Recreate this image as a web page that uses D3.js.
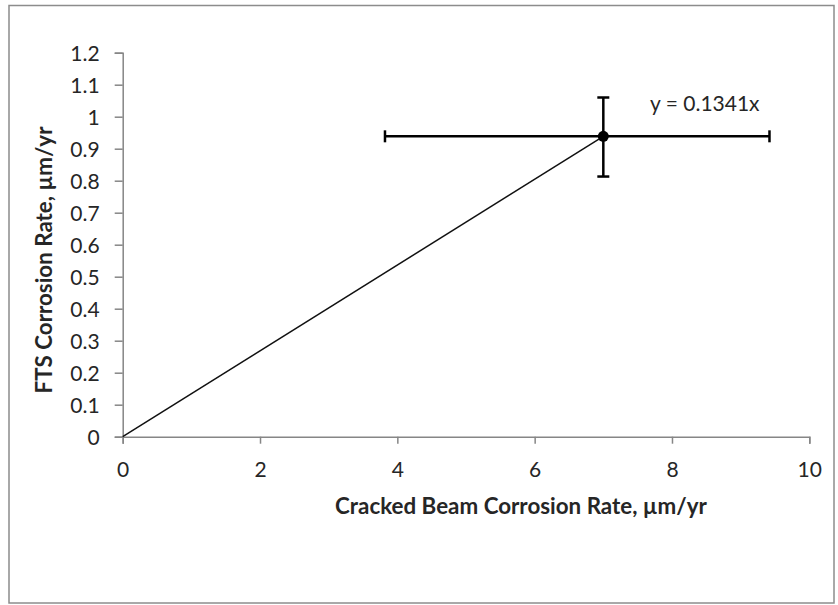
<!DOCTYPE html>
<html><head><meta charset="utf-8">
<script src="https://cdn.jsdelivr.net/npm/d3@7"></script>
<style>html,body{margin:0;padding:0;background:#fff;}svg{display:block;}</style>
</head><body>
<svg id="c" width="838" height="605"></svg>
<script>
// ---- data ----
const xTicks = [0, 2, 4, 6, 8, 10];
const yTicks = [0, 0.1, 0.2, 0.3, 0.4, 0.5, 0.6, 0.7, 0.8, 0.9, 1, 1.1, 1.2];
const pointX = [7];
const pointY = [0.9387];
const xErrLow = [3.82];
const xErrHigh = [9.42];
const yErrLow = [0.813];
const yErrHigh = [1.06];
const slope = 0.1341;
const trendX = [0, 7];
const trendLabel = "y = 0.1341x";
const xTitle = "Cracked Beam Corrosion Rate, µm/yr";
const yTitle = "FTS Corrosion Rate, µm/yr";

const svg = d3.select("#c");
const font = "Lato, 'Open Sans', sans-serif";
const axisColor = "#868686";
const textColor = "#262626";

svg.append("rect").attr("x", 9).attr("y", 5.5).attr("width", 825).attr("height", 597.5)
  .attr("fill", "#fff").attr("stroke", "#8c8c8c").attr("stroke-width", 1.5);

const x = d3.scaleLinear().domain([0, 10]).range([122.7, 809.3]);
const y = d3.scaleLinear().domain([0, 1.2]).range([436.7, 52.7]);

// axes
const xAxis = svg.append("g").attr("transform", `translate(0,${y(0)})`)
  .call(d3.axisBottom(x).tickValues(xTicks).tickSize(7).tickPadding(18).tickFormat(d3.format("d")));
const yAxis = svg.append("g").attr("transform", `translate(${x(0)},0)`)
  .call(d3.axisLeft(y).tickValues(yTicks).tickSize(8).tickPadding(15).tickFormat(d => d3.format("")(+d.toFixed(1))));
[xAxis, yAxis].forEach(g => {
  g.select(".domain").attr("stroke", axisColor).attr("stroke-width", 1.5);
  g.selectAll(".tick line").attr("stroke", axisColor).attr("stroke-width", 1.5);
  g.selectAll(".tick text").attr("fill", textColor).attr("font-family", font).attr("font-size", 21);
});
yAxis.selectAll(".tick text").attr("dy", "0.35em");
xAxis.selectAll(".tick text").attr("dy", "0.71em");

// trend line
const line = d3.line().x(d => x(d)).y(d => y(slope * d));
svg.append("path").datum(trendX).attr("d", line).attr("fill", "none")
  .attr("stroke", "#111").attr("stroke-width", 1.5);

// error bars
const g = svg.append("g");
pointX.forEach((px, i) => {
  const py = pointY[i];
  const sw = 2.5, cap = 6;
  g.append("line").attr("x1", x(xErrLow[i])).attr("x2", x(xErrHigh[i])).attr("y1", y(py)).attr("y2", y(py))
    .attr("stroke", "#000").attr("stroke-width", sw);
  [xErrLow[i], xErrHigh[i]].forEach(v => g.append("line").attr("x1", x(v)).attr("x2", x(v))
    .attr("y1", y(py) - cap).attr("y2", y(py) + cap).attr("stroke", "#000").attr("stroke-width", sw));
  g.append("line").attr("x1", x(px)).attr("x2", x(px)).attr("y1", y(yErrLow[i])).attr("y2", y(yErrHigh[i]))
    .attr("stroke", "#000").attr("stroke-width", sw);
  [yErrLow[i], yErrHigh[i]].forEach(v => g.append("line").attr("x1", x(px) - cap).attr("x2", x(px) + cap)
    .attr("y1", y(v)).attr("y2", y(v)).attr("stroke", "#000").attr("stroke-width", sw));
  g.append("circle").attr("cx", x(px)).attr("cy", y(py)).attr("r", 5.5).attr("fill", "#000");
});

// trendline label
svg.append("text").attr("x", 650).attr("y", 110.7).attr("font-family", font).attr("font-size", 21)
  .attr("fill", textColor).text(trendLabel);

// axis titles
const xt = svg.append("text").attr("x", 521).attr("y", 513.5).attr("text-anchor", "middle")
  .attr("font-family", font).attr("font-weight", "bold").attr("font-size", 20).attr("fill", textColor).text(xTitle);
const xw = xt.node().getComputedTextLength();
const titleSize = 20 * 372 / xw;
xt.attr("font-size", titleSize);
svg.append("text").attr("transform", `translate(52,260) rotate(-90)`)
  .attr("text-anchor", "middle").attr("font-family", font).attr("font-weight", "bold")
  .attr("font-size", titleSize).attr("fill", textColor).text(yTitle);
</script>
</body></html>
